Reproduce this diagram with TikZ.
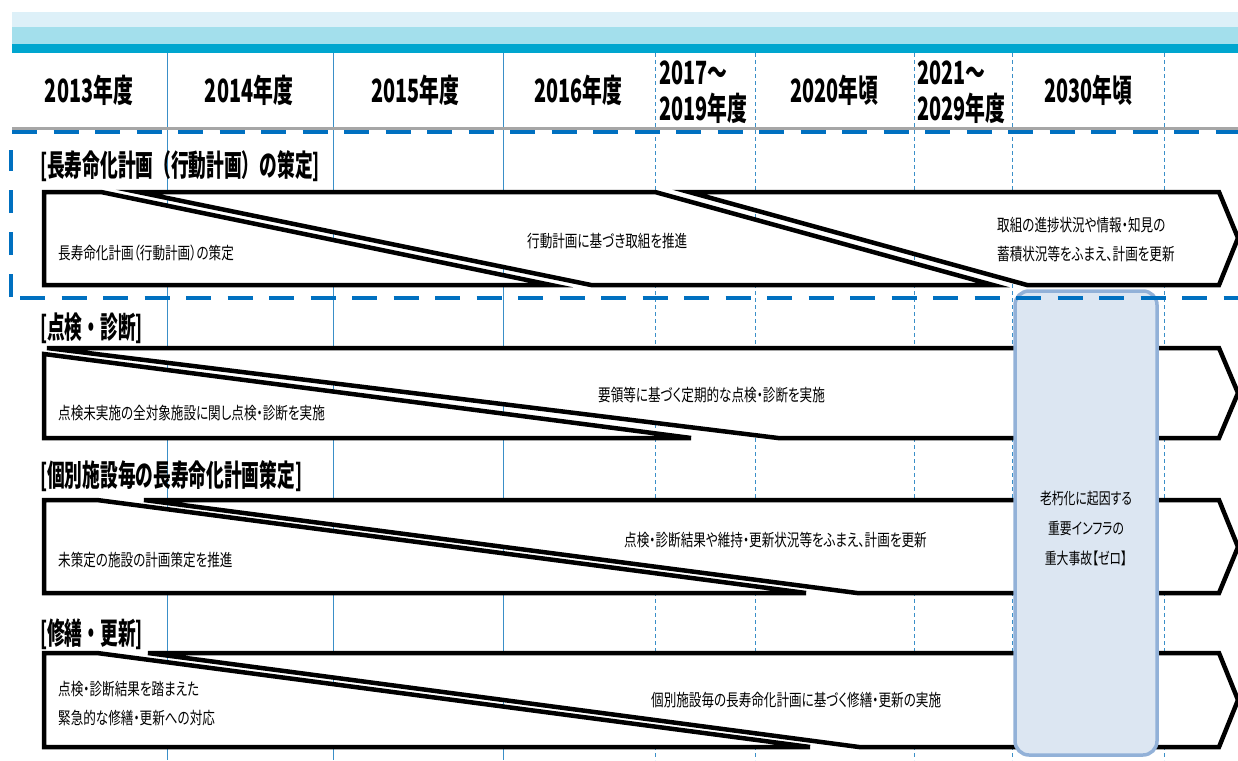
\documentclass[tikz,border=0pt]{standalone}
\usepackage{fontspec}
\newfontfamily\jphead[FakeStretch=0.62]{Noto Sans CJK JP}
\newfontfamily\jplabel[FakeStretch=0.59]{Noto Sans CJK JP}
\newfontfamily\jptext[FakeStretch=0.74,RawFeature=+palt]{Noto Sans CJK JP}
\definecolor{bandlight}{HTML}{DDF0F8}
\definecolor{bandmid}{HTML}{A3DFEC}
\definecolor{banddark}{HTML}{00A6CF}
\definecolor{gridblue}{HTML}{3A8FC8}
\definecolor{dashblue}{HTML}{0070C0}
\definecolor{goalfill}{HTML}{DCE6F2}
\definecolor{goalline}{HTML}{92B1D8}
\tikzset{
	arrowpart/.style={draw=black, line width=4.5pt, fill=white},
	gridsolid/.style={draw=gridblue, line width=1pt},
	griddash/.style={draw=gridblue, line width=0.8pt, dash pattern=on 4pt off 3pt},
	dashline/.style={draw=dashblue, line width=4pt, dash pattern=on 25pt off 16.5pt},
	headtxt/.style={inner sep=0pt, font=\jphead\bfseries\fontsize{32}{36}\selectfont},
	labeltxt/.style={inner sep=0pt, anchor=west, font=\jplabel\bfseries\fontsize{30}{32}\selectfont},
	rowtxt/.style={inner sep=0pt, anchor=west, align=left, font=\jptext\fontsize{17}{29}\selectfont},
	goalbox/.style={draw=goalline, line width=3.5pt, fill=goalfill, rounded corners=14pt,
		minimum width=142pt, minimum height=464pt},
	goaltxt/.style={inner sep=0pt, align=center, font=\jptext\fontsize{16}{30}\selectfont}
}
\begin{document}
\begin{tikzpicture}[x=1pt,y=-1pt]
				\def\xl{44};
				\def\xe{1219};
				\def\xt{1238};
				\useasboundingbox (0,0) rectangle (1238,760);
				\fill[bandlight] (12,12) rectangle (\xt,27);
				\fill[bandmid] (12,27) rectangle (\xt,44);
				\fill[banddark] (12,44) rectangle (\xt,53);
				\foreach \gx in {167,333,503}
					\draw[gridsolid] (\gx,53) -- (\gx,760);
				\foreach \gx in {655,755,914,1012,1164}
					\draw[griddash] (\gx,53) -- (\gx,760);
				\draw[line width=3pt, gray!70] (12,128) -- (\xt,128);
				\node[headtxt] (y2013) at (89,90) {2013年度};
				\node[headtxt] (y2014) at (249,90) {2014年度};
				\node[headtxt] (y2015) at (415,90) {2015年度};
				\node[headtxt] (y2016) at (578,90) {2016年度};
				\node[headtxt, anchor=west, align=left] (y2017) at (659,92) {2017～\\2019年度};
				\node[headtxt] (y2020) at (834,90) {2020年頃};
				\node[headtxt, anchor=west, align=left] (y2021) at (917,92) {2021～\\2029年度};
				\node[headtxt] (y2030) at (1088,90) {2030年頃};
				\node[labeltxt] (sec1) at (40,166) {[長寿命化計画（行動計画）の策定]};
				\node[labeltxt] (sec2) at (40,328) {[点検・診断]};
				\node[labeltxt] (sec3) at (40,476) {[個別施設毎の長寿命化計画策定]};
				\node[labeltxt] (sec4) at (40,634) {[修繕・更新]};
				\draw[arrowpart] (\xl,192) -- (101,192) -- (551,285) -- (\xl,285) -- cycle;
				\draw[arrowpart] (138,192) -- (655,192) -- (993,285) -- (591,285) -- cycle;
				\draw[arrowpart] (689,192) -- (\xe,192) -- (\xt,238) -- (\xe,285) -- (1027,285) -- cycle;
				\draw[arrowpart] (\xl,354) -- (691,438) -- (\xl,438) -- cycle;
				\draw[arrowpart] (47,348) -- (\xe,348) -- (\xt,393) -- (\xe,438) -- (778,438) -- cycle;
				\draw[arrowpart] (\xl,500) -- (97,500) -- (806,593) -- (\xl,593) -- cycle;
				\draw[arrowpart] (144,500) -- (\xe,500) -- (\xt,547) -- (\xe,593) -- (857,593) -- cycle;
				\draw[arrowpart] (\xl,653) -- (97,653) -- (810,747) -- (\xl,747) -- cycle;
				\draw[arrowpart] (148,653) -- (\xe,653) -- (\xt,700) -- (\xe,747) -- (859,747) -- cycle;
				\node[rowtxt] (r1a) at (58,253) {長寿命化計画（行動計画）の策定};
				\node[rowtxt] (r1b) at (527,241) {行動計画に基づき取組を推進};
				\node[rowtxt] (r1c) at (997,240) {取組の進捗状況や情報・知見の\\蓄積状況等をふまえ、計画を更新};
				\node[rowtxt] (r2a) at (58,413) {点検未実施の全対象施設に関し点検・診断を実施};
				\node[rowtxt] (r2b) at (598,395) {要領等に基づく定期的な点検・診断を実施};
				\node[rowtxt] (r3a) at (58,560) {未策定の施設の計画策定を推進};
				\node[rowtxt] (r3b) at (624,540) {点検・診断結果や維持・更新状況等をふまえ、計画を更新};
				\node[rowtxt] (r4a) at (58,704) {点検・診断結果を踏まえた\\緊急的な修繕・更新への対応};
				\node[rowtxt] (r4b) at (651,700) {個別施設毎の長寿命化計画に基づく修繕・更新の実施};
				\node[goalbox] (goal) at (1086,523) {};
				\node[goaltxt] (goalmsg) at (1086,528) {老朽化に起因する\\重要インフラの\\重大事故【ゼロ】};
				\draw[dashline] (12,132) -- (\xt,132);
				\draw[dashline] (20,298) -- (\xt,298);
				\draw[dashline, dash pattern=on 23pt off 19pt] (11,297) -- (11,150);
			\end{tikzpicture}
\end{document}
